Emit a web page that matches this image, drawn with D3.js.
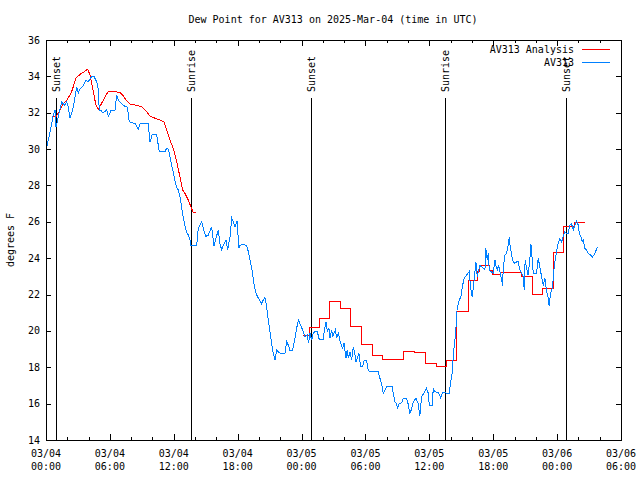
<!DOCTYPE html>
<html><head><meta charset="utf-8">
<script src="https://cdn.jsdelivr.net/npm/d3@7"></script>
<style>
body{margin:0;background:#fff;}
svg{display:block;}
text{font-family:"DejaVu Sans Mono","Liberation Mono",monospace;font-size:10px;fill:#000;}
</style></head>
<body>
<svg id="chart" width="640" height="480"></svg>
<script>
// ---- DATA (hours since 2025-03-04 00:00 UTC) ----
const titleText = "Dew Point for AV313 on 2025-Mar-04 (time in UTC)";
const yLabel = "degrees F";
const seriesNames = ["AV313 Analysis", "AV313"];
const xTickHours = [0, 6, 12, 18, 24, 30, 36, 42, 48, 54];
const xTickLabels = [["03/04","00:00"],["03/04","06:00"],["03/04","12:00"],["03/04","18:00"],["03/05","00:00"],["03/05","06:00"],["03/05","12:00"],["03/05","18:00"],["03/06","00:00"],["03/06","06:00"]];
const xMinorHours = [2,4,8,10,14,16,20,22,26,28,32,34,38,40,44,46,50,52];
const yTicks = [14,16,18,20,22,24,26,28,30,32,34,36];
const sunEvents = [["Sunset",0.91],["Sunrise",13.59],["Sunset",24.92],["Sunrise",37.5],["Sunset",48.84]];

// observed dew point (blue)
const obsHours = [0.1,0.4,0.69,0.85,0.94,1.16,1.47,1.78,1.94,2.1,2.25,2.57,2.88,3.03,3.19,3.5,3.76,3.97,4.29,4.5,4.76,4.91,5.0,5.13,5.3,5.54,5.7,5.85,6.0,6.1,6.48,6.64,6.79,6.95,7.26,7.64,7.82,8.36,8.67,8.83,9.45,9.6,9.77,9.98,10.39,10.64,11.17,11.33,11.49,11.64,11.8,11.95,12.1,12.27,12.42,12.58,12.74,12.9,13.05,13.2,13.36,13.52,13.58,14.15,14.3,14.46,14.62,14.77,15.0,15.24,15.56,15.77,15.96,16.18,16.34,16.5,16.65,16.9,17.06,17.28,17.44,17.59,17.75,17.96,18.1,18.2,18.5,18.85,19.0,19.22,19.4,19.53,19.72,19.94,20.16,20.25,20.4,20.56,20.72,20.87,21.03,21.19,21.34,21.5,21.66,21.9,22.13,22.44,22.6,22.75,22.9,23.16,23.38,23.54,23.7,23.91,24.1,24.32,24.54,24.66,24.79,24.95,25.1,25.26,25.48,25.66,26.04,26.13,26.29,26.42,26.57,26.67,26.83,26.92,27.04,27.17,27.3,27.45,27.67,27.86,27.98,28.17,28.29,28.39,28.55,28.7,28.85,29.0,29.1,29.23,29.39,29.55,29.74,29.9,30.1,30.27,30.58,31.2,31.36,31.52,31.67,31.83,32.05,32.52,32.61,32.77,32.93,33.0,33.17,33.4,33.55,33.87,34.0,34.18,34.3,34.5,34.74,34.96,35.1,35.28,35.5,35.74,35.9,36.0,36.27,36.37,36.53,36.84,37.06,37.25,37.87,38.0,38.15,38.25,38.4,38.5,38.56,38.65,38.8,38.97,39.12,39.28,39.5,39.75,39.88,40.03,40.19,40.37,40.5,40.63,40.75,40.91,41.06,41.22,41.31,41.44,41.53,41.63,41.78,42.0,42.16,42.25,42.38,42.5,42.63,42.79,42.88,42.94,43.1,43.26,43.41,43.5,43.6,43.73,43.88,44.04,44.2,44.35,44.5,44.67,44.82,44.91,45.0,45.13,45.28,45.45,45.54,45.63,45.76,46.07,46.22,46.38,46.54,46.7,46.85,47.0,47.16,47.25,47.39,47.54,47.64,47.73,47.89,48.05,48.26,48.42,48.57,48.73,48.89,49.04,49.2,49.36,49.51,49.67,49.83,49.98,50.08,50.23,50.36,50.45,50.6,50.77,50.92,51.14,51.3,51.46,51.61,51.8];
const obsValues = [30.2,31.0,31.9,32.15,31.2,31.8,32.6,32.4,32.6,32.3,31.7,32.3,33.4,33.07,33.3,33.5,33.8,33.7,34.0,34.0,33.7,33.3,32.15,32.15,32.0,32.06,32.15,31.8,31.97,32.15,32.15,32.97,32.7,32.6,32.4,32.3,31.5,31.4,31.1,31.4,31.4,31.4,30.4,30.8,30.8,29.86,29.86,30.04,30.0,29.58,29.1,28.76,28.3,27.9,27.75,27.4,26.8,26.2,25.8,25.45,25.27,25.0,24.7,24.67,25.64,25.8,26.0,25.64,25.2,25.27,25.73,24.67,25.1,25.55,24.8,24.45,24.7,25.0,24.45,25.18,26.2,26.0,25.73,26.06,24.54,24.7,24.78,24.67,24.36,23.72,23.17,22.6,22.07,21.8,21.6,21.48,21.7,21.85,21.33,20.6,19.96,19.32,18.77,18.4,18.95,18.8,18.77,18.77,19.4,19.23,18.95,18.95,19.6,20.14,20.6,20.32,20.05,19.68,19.77,19.32,19.87,19.5,19.87,19.96,19.96,19.54,19.54,19.96,20.5,19.96,20.14,19.6,20.05,19.68,19.87,20.05,19.6,19.87,19.32,19.05,19.35,18.5,18.95,18.5,18.86,18.4,19.1,18.77,18.3,18.5,18.77,18.03,18.03,18.4,18.4,17.8,17.78,17.76,17.4,17.1,16.57,16.75,16.97,16.97,16.57,16.1,16.0,15.74,16.0,16.05,16.3,16.3,16.0,15.47,15.65,16.1,16.3,16.0,15.3,16.4,16.57,16.84,16.57,15.9,15.9,16.84,16.65,16.6,16.33,16.6,16.57,17.2,17.67,18.67,19.5,20.14,20.96,21.33,21.7,21.88,22.5,22.9,23.07,23.26,22.34,21.88,22.7,23.8,22.98,23.35,23.6,23.53,23.44,23.35,24.54,23.9,24.26,23.35,23.26,23.17,23.9,23.6,23.35,23.6,23.26,22.8,22.5,23.44,24.17,24.26,24.72,25.14,24.63,24.17,23.8,23.72,23.8,23.8,23.35,23.17,22.98,22.25,23.9,23.44,23.07,24.0,24.8,24.17,23.17,23.17,24.0,23.53,22.98,22.5,22.9,22.25,21.8,21.37,22.07,22.34,22.9,23.53,24.17,24.72,25.09,24.9,25.18,25.46,25.37,25.37,25.83,25.88,25.55,25.83,26.06,25.83,25.37,25.18,24.9,25.0,24.54,24.45,24.26,24.17,24.05,24.17,24.36,24.63];

// analysis (red), first day: continuous trace
const anaHoursA = [0.66,1.0,1.31,1.63,1.94,2.41,2.82,3.19,3.6,3.91,4.13,4.44,4.69,4.91,5.23,5.54,5.85,6.32,6.95,7.2,7.51,7.89,8.51,8.98,9.45,9.77,10.23,10.7,11.08,11.33,11.64,11.95,12.27,12.58,12.83,13.05,13.36,13.58,13.83,14.05];
const anaValuesA = [31.82,31.82,32.15,32.52,32.66,33.16,33.9,34.11,34.26,34.39,34.08,33.16,32.42,32.2,32.52,32.88,33.16,33.16,33.12,32.97,32.7,32.48,32.4,32.33,32.06,31.82,31.7,31.6,31.5,31.05,30.5,30.04,29.3,28.48,27.75,27.57,27.2,26.87,26.5,26.5];
// analysis (red), second day: stepped values
const anaHoursB = [24.16,24.75,25.7,26.62,27.62,28.58,29.6,30.68,31.6,33.57,34.6,35.65,36.7,37.6,38.58,39.7,40.55,40.7,41.65,41.9,42.7,44.7,45.65,46.62,47.62,48.6,49.65,50.6];
const anaValuesB = [19.77,20.2,20.69,21.6,21.24,20.23,19.23,18.67,18.44,18.86,18.8,18.2,18.07,18.36,21.06,22.76,23.26,23.59,23.31,23.13,23.2,22.98,22.03,22.34,24.3,25.77,25.97,25.97];

const colors = ["#ff0000", "#0080ff"];

// ---- CHART ----
const svg = d3.select("#chart");
const L = 46, R = 621, T = 40, B = 440;
const x = d3.scaleLinear().domain([0, 54]).range([L, R]);
const y = d3.scaleLinear().domain([14, 36]).range([B, T]);

// title
svg.append("text").attr("x", 333).attr("y", 23).attr("text-anchor", "middle").text(titleText);

// y label
svg.append("text").attr("transform", "translate(14,240) rotate(-90)").attr("text-anchor", "middle").text(yLabel);

// ticks via axes (inward)
const g = svg.append("g").attr("shape-rendering", "crispEdges");
function styleAxis(sel){ sel.select(".domain").remove(); sel.selectAll("text").remove(); sel.selectAll("line").attr("stroke","#000"); }
g.append("g").attr("transform", `translate(0,${B})`).call(d3.axisBottom(x).tickValues(xTickHours).tickSize(-6)).call(styleAxis);
g.append("g").attr("transform", `translate(0,${B})`).call(d3.axisBottom(x).tickValues(xMinorHours).tickSize(-3)).call(styleAxis);
g.append("g").attr("transform", `translate(0,${T})`).call(d3.axisTop(x).tickValues(xTickHours).tickSize(-6)).call(styleAxis);
g.append("g").attr("transform", `translate(0,${T})`).call(d3.axisTop(x).tickValues(xMinorHours).tickSize(-3)).call(styleAxis);
g.append("g").attr("transform", `translate(${L},0)`).call(d3.axisLeft(y).tickValues(yTicks).tickSize(-5)).call(styleAxis);
g.append("g").attr("transform", `translate(${R},0)`).call(d3.axisRight(y).tickValues(yTicks).tickSize(-5)).call(styleAxis);

// y tick labels
svg.append("g").selectAll("text").data(yTicks).join("text")
  .attr("x", L - 6).attr("y", d => y(d)).attr("dy", "0.35em").attr("text-anchor", "end").text(d => d);

// x tick labels (two lines)
const xl = svg.append("g").selectAll("text").data(xTickHours).join("text")
  .attr("text-anchor", "middle");
xl.append("tspan").attr("x", d => x(d)).attr("y", 457).text((d,i) => xTickLabels[i][0]);
xl.append("tspan").attr("x", d => x(d)).attr("y", 470).text((d,i) => xTickLabels[i][1]);

// sunrise / sunset lines
const se = svg.append("g");
se.selectAll("line").data(sunEvents).join("line")
  .attr("x1", d => Math.round(x(d[1])) + 0.5).attr("x2", d => Math.round(x(d[1])) + 0.5)
  .attr("y1", 98).attr("y2", B).attr("stroke", "#000").attr("stroke-width", 1).attr("shape-rendering", "crispEdges");
se.selectAll("text").data(sunEvents).join("text")
  .attr("transform", d => `translate(${Math.round(x(d[1])) + 0.5},92) rotate(-90)`)
  .attr("text-anchor", "start").attr("dy", "0.35em").text(d => d[0]);

// series lines
const line = d3.line().x(d => x(d[0])).y(d => y(d[1]));
const stepLine = d3.line().x(d => x(d[0])).y(d => y(d[1])).curve(d3.curveStepAfter);
const obs = obsHours.map((h, i) => [h, obsValues[i]]);
const anaA = anaHoursA.map((h, i) => [h, anaValuesA[i]]);
const anaB = anaHoursB.map((h, i) => [h, anaValuesB[i]]);
svg.append("path").datum(anaA).attr("d", line).attr("fill", "none").attr("stroke", colors[0]).attr("stroke-width", 1).attr("shape-rendering", "crispEdges");
svg.append("path").datum(anaB).attr("d", stepLine).attr("fill", "none").attr("stroke", colors[0]).attr("stroke-width", 1).attr("shape-rendering", "crispEdges");
svg.append("path").datum(obs).attr("d", line).attr("fill", "none").attr("stroke", colors[1]).attr("stroke-width", 1).attr("shape-rendering", "crispEdges");

// border
svg.append("rect").attr("x", L + 0.5).attr("y", T + 0.5).attr("width", R - L).attr("height", B - T)
  .attr("fill", "none").attr("stroke", "#000").attr("shape-rendering", "crispEdges");

// legend
const lg = svg.append("g");
seriesNames.forEach((name, i) => {
  const yy = 49.5 + i * 13;
  lg.append("text").attr("x", 574).attr("y", yy).attr("dy", "0.35em").attr("text-anchor", "end").text(name);
  lg.append("line").attr("x1", 582).attr("x2", 610).attr("y1", yy).attr("y2", yy)
    .attr("stroke", colors[i]).attr("stroke-width", 1).attr("shape-rendering", "crispEdges");
});
</script>
</body></html>
